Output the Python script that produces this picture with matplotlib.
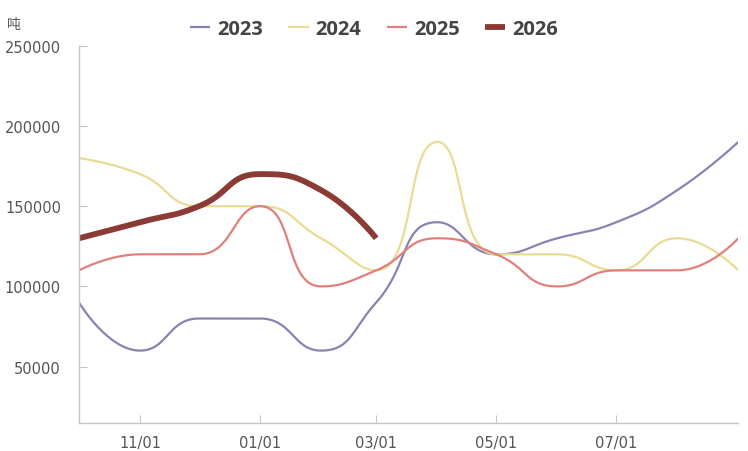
import datetime as dt
import numpy as np
import matplotlib
matplotlib.use("Agg")
import matplotlib.pyplot as plt
import matplotlib.dates as mdates

# monthly values, Oct -> Sep
months = [dt.datetime(2024, 10, 1)] + [dt.datetime(2024 + (m < 10), m, 1) for m in list(range(11, 13)) + list(range(1, 10))]
months = sorted(months)
v2023 = [90000, 60000, 80000, 80000, 60000, 90000, 140000, 120000, 130000, 140000, 160000, 190000]
v2024 = [180000, 170000, 150000, 150000, 130000, 110000, 190000, 120000, 120000, 110000, 130000, 110000]
v2025 = [110000, 120000, 120000, 150000, 100000, 110000, 130000, 120000, 100000, 110000, 110000, 130000]
v2026 = [130000, 140000, 150000, 170000, 160000, 130000]

series_names = ["2023", "2024", "2025", "2026"]
series_vals = [v2023, v2024, v2025, v2026]
colors = ["#8784b2", "#e8dc92", "#e07f7b", "#8b3b34"]
widths = [1.6, 1.6, 1.6, 4.2]

tick_dates = [dt.datetime(2024, 11, 1), dt.datetime(2025, 1, 1), dt.datetime(2025, 3, 1),
              dt.datetime(2025, 5, 1), dt.datetime(2025, 7, 1)]
y_ticks = [50000, 100000, 150000, 200000, 250000]


def smooth_curve(px, py, smooth=0.5, steps=40):
    # bezier smoothing like echarts (control points clamped to neighbours)
    n = len(px)
    xs, ys = [px[0]], [py[0]]
    cx0, cy0 = px[0], py[0]
    for i in range(1, n):
        x, y = px[i], py[i]
        x0, y0 = px[i - 1], py[i - 1]
        if i < n - 1:
            x2, y2 = px[i + 1], py[i + 1]
            vx, vy = x2 - x0, y2 - y0
            l0 = np.hypot(x - x0, y - y0)
            l1 = np.hypot(x2 - x, y2 - y)
            r = l1 / (l1 + l0)
            ncx = x + vx * smooth * r
            ncy = y + vy * smooth * r
            ncx = max(min(ncx, max(x2, x)), min(x2, x))
            ncy = max(min(ncy, max(y2, y)), min(y2, y))
            vx, vy = ncx - x, ncy - y
            cx1 = x - vx * l0 / l1
            cy1 = y - vy * l0 / l1
            cx1 = max(min(cx1, max(x0, x)), min(x0, x))
            cy1 = max(min(cy1, max(y0, y)), min(y0, y))
            vx, vy = x - cx1, y - cy1
            ncx = x + vx * l1 / l0
            ncy = y + vy * l1 / l0
        else:
            cx1, cy1 = x, y
            ncx, ncy = x, y
        t = np.linspace(0, 1, steps)[1:]
        a = (1 - t) ** 3
        b = 3 * (1 - t) ** 2 * t
        c = 3 * (1 - t) * t ** 2
        d = t ** 3
        xs.extend(a * x0 + b * cx0 + c * cx1 + d * x)
        ys.extend(a * y0 + b * cy0 + c * cy1 + d * y)
        cx0, cy0 = ncx, ncy
    return np.array(xs), np.array(ys)


fig = plt.figure(figsize=(7.48, 4.52), dpi=100)
W, H = 748, 452
ax = fig.add_axes([79 / W, (H - 424.3) / H, (738.3 - 79) / W, (424.3 - 46.7) / H])
ax.set_xlim(mdates.date2num(dt.datetime(2024, 10, 1)), mdates.date2num(dt.datetime(2025, 9, 1)))
ax.set_ylim(14700, 250000)

handles = []
for name, vals, col, lw in zip(series_names, series_vals, colors, widths):
    xd = mdates.date2num(months[:len(vals)])
    pts = ax.transData.transform(np.column_stack([xd, vals]))
    sx, sy = smooth_curve(pts[:, 0], pts[:, 1])
    back = ax.transData.inverted().transform(np.column_stack([sx, sy]))
    h, = ax.plot(back[:, 0], back[:, 1], color=col, lw=lw, label=name,
                 solid_capstyle="butt", solid_joinstyle="round")
    handles.append(h)

for s in ["top", "right"]:
    ax.spines[s].set_visible(False)
for s in ["left", "bottom"]:
    ax.spines[s].set_color("#c4c4c4")
    ax.spines[s].set_linewidth(1.0)

ax.set_xticks(mdates.date2num(tick_dates))
ax.xaxis.set_major_formatter(mdates.DateFormatter("%m/%d"))
ax.set_yticks(y_ticks)
ax.set_yticklabels([str(v) for v in y_ticks])
ax.tick_params(axis="both", direction="in", length=6, color="#c4c4c4", width=0.8,
               labelsize=10.5, labelcolor="#555555")
ax.tick_params(axis="y", pad=13)
ax.tick_params(axis="x", pad=8.5)

fig.text(7 / W, 1 - 25 / H, "吨", family=["Noto Sans CJK SC", "DejaVu Sans"],
         fontsize=10, color="#555555", va="center", ha="left")

leg = fig.legend(handles=handles, loc="center", bbox_to_anchor=(0.5, 1 - 30 / H),
                 ncol=4, frameon=False, handlelength=1.0, handletextpad=0.35,
                 columnspacing=1.25,
                 prop={"family": "Open Sans", "weight": "bold", "size": 14.5})
for t in leg.get_texts():
    t.set_color("#444444")

fig.savefig("out.png", dpi=100)
